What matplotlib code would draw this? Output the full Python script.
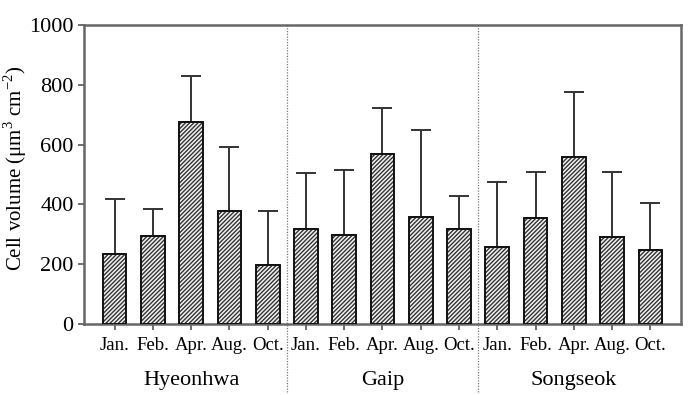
import numpy as np
import matplotlib
matplotlib.use("Agg")
import matplotlib.pyplot as plt
import matplotlib.transforms as mtransforms

plt.rcParams['font.family'] = ['Liberation Serif', 'DejaVu Serif']
plt.rcParams['mathtext.fontset'] = 'custom'
plt.rcParams['mathtext.rm'] = 'Liberation Serif'
plt.rcParams['hatch.linewidth'] = 1.0

sites = ['Hyeonhwa', 'Gaip', 'Songseok']
months = ['Jan.', 'Feb.', 'Apr.', 'Aug.', 'Oct.']

# mean cell volume per site and month
volume = {
    'Hyeonhwa': [234, 295, 675, 378, 198],
    'Gaip': [318, 299, 570, 358, 318],
    'Songseok': [258, 354, 560, 291, 248],
}
# top of the error bar (mean + SD)
err_top = {
    'Hyeonhwa': [419, 385, 829, 591, 378],
    'Gaip': [505, 515, 722, 648, 429],
    'Songseok': [474, 510, 775, 510, 404],
}

fig = plt.figure(figsize=(6.88, 3.95), dpi=100)
ax = fig.add_axes([0.1221, 0.1797, 0.8677, 0.7570])

vals = np.concatenate([volume[s] for s in sites])
tops = np.concatenate([err_top[s] for s in sites])
x = np.arange(len(vals))
labels = months * len(sites)

ax.errorbar(x, vals, yerr=[np.zeros_like(vals), tops - vals], fmt='none',
            ecolor='#333333', elinewidth=1.4, capsize=7, capthick=1.4, zorder=1)
ax.bar(x, vals, width=0.62, color='#f2f2f2', edgecolor='#333333',
       hatch='////////', linewidth=0, zorder=2)
ax.bar(x, vals, width=0.62, fill=False, edgecolor='#111111',
       linewidth=1.4, zorder=3)

ax.set_xlim(-0.8, 14.8)
ax.set_ylim(0, 1000)
ax.set_yticks(range(0, 1001, 200))
ax.set_xticks(x)
ax.set_xticklabels(labels, fontsize=13.5)
ax.tick_params(axis='y', labelsize=16, direction='out', length=4, width=1.2, color='#555555')
ax.tick_params(axis='x', direction='out', length=4, width=1.2, color='#555555', pad=5)
for sp in ax.spines.values():
    sp.set_linewidth(1.8)
    sp.set_color('#666666')

ax.set_ylabel('Cell volume (μm$^{3}$ cm$^{-2}$)', fontsize=15)
ax.yaxis.set_label_coords(-0.092, 0.52)

trans = mtransforms.blended_transform_factory(ax.transData, ax.transAxes)
for sep in [4.5, 9.5]:
    ax.plot([sep, sep], [1.0, -0.23], transform=trans, color='#777777',
            linestyle=(0, (1, 1.2)), linewidth=0.9, clip_on=False, zorder=0)

for i, s in enumerate(sites):
    ax.text(i * 5 + 2, -0.19, s, transform=trans, ha='center', va='center', fontsize=16)

fig.savefig('out.png', dpi=100)
